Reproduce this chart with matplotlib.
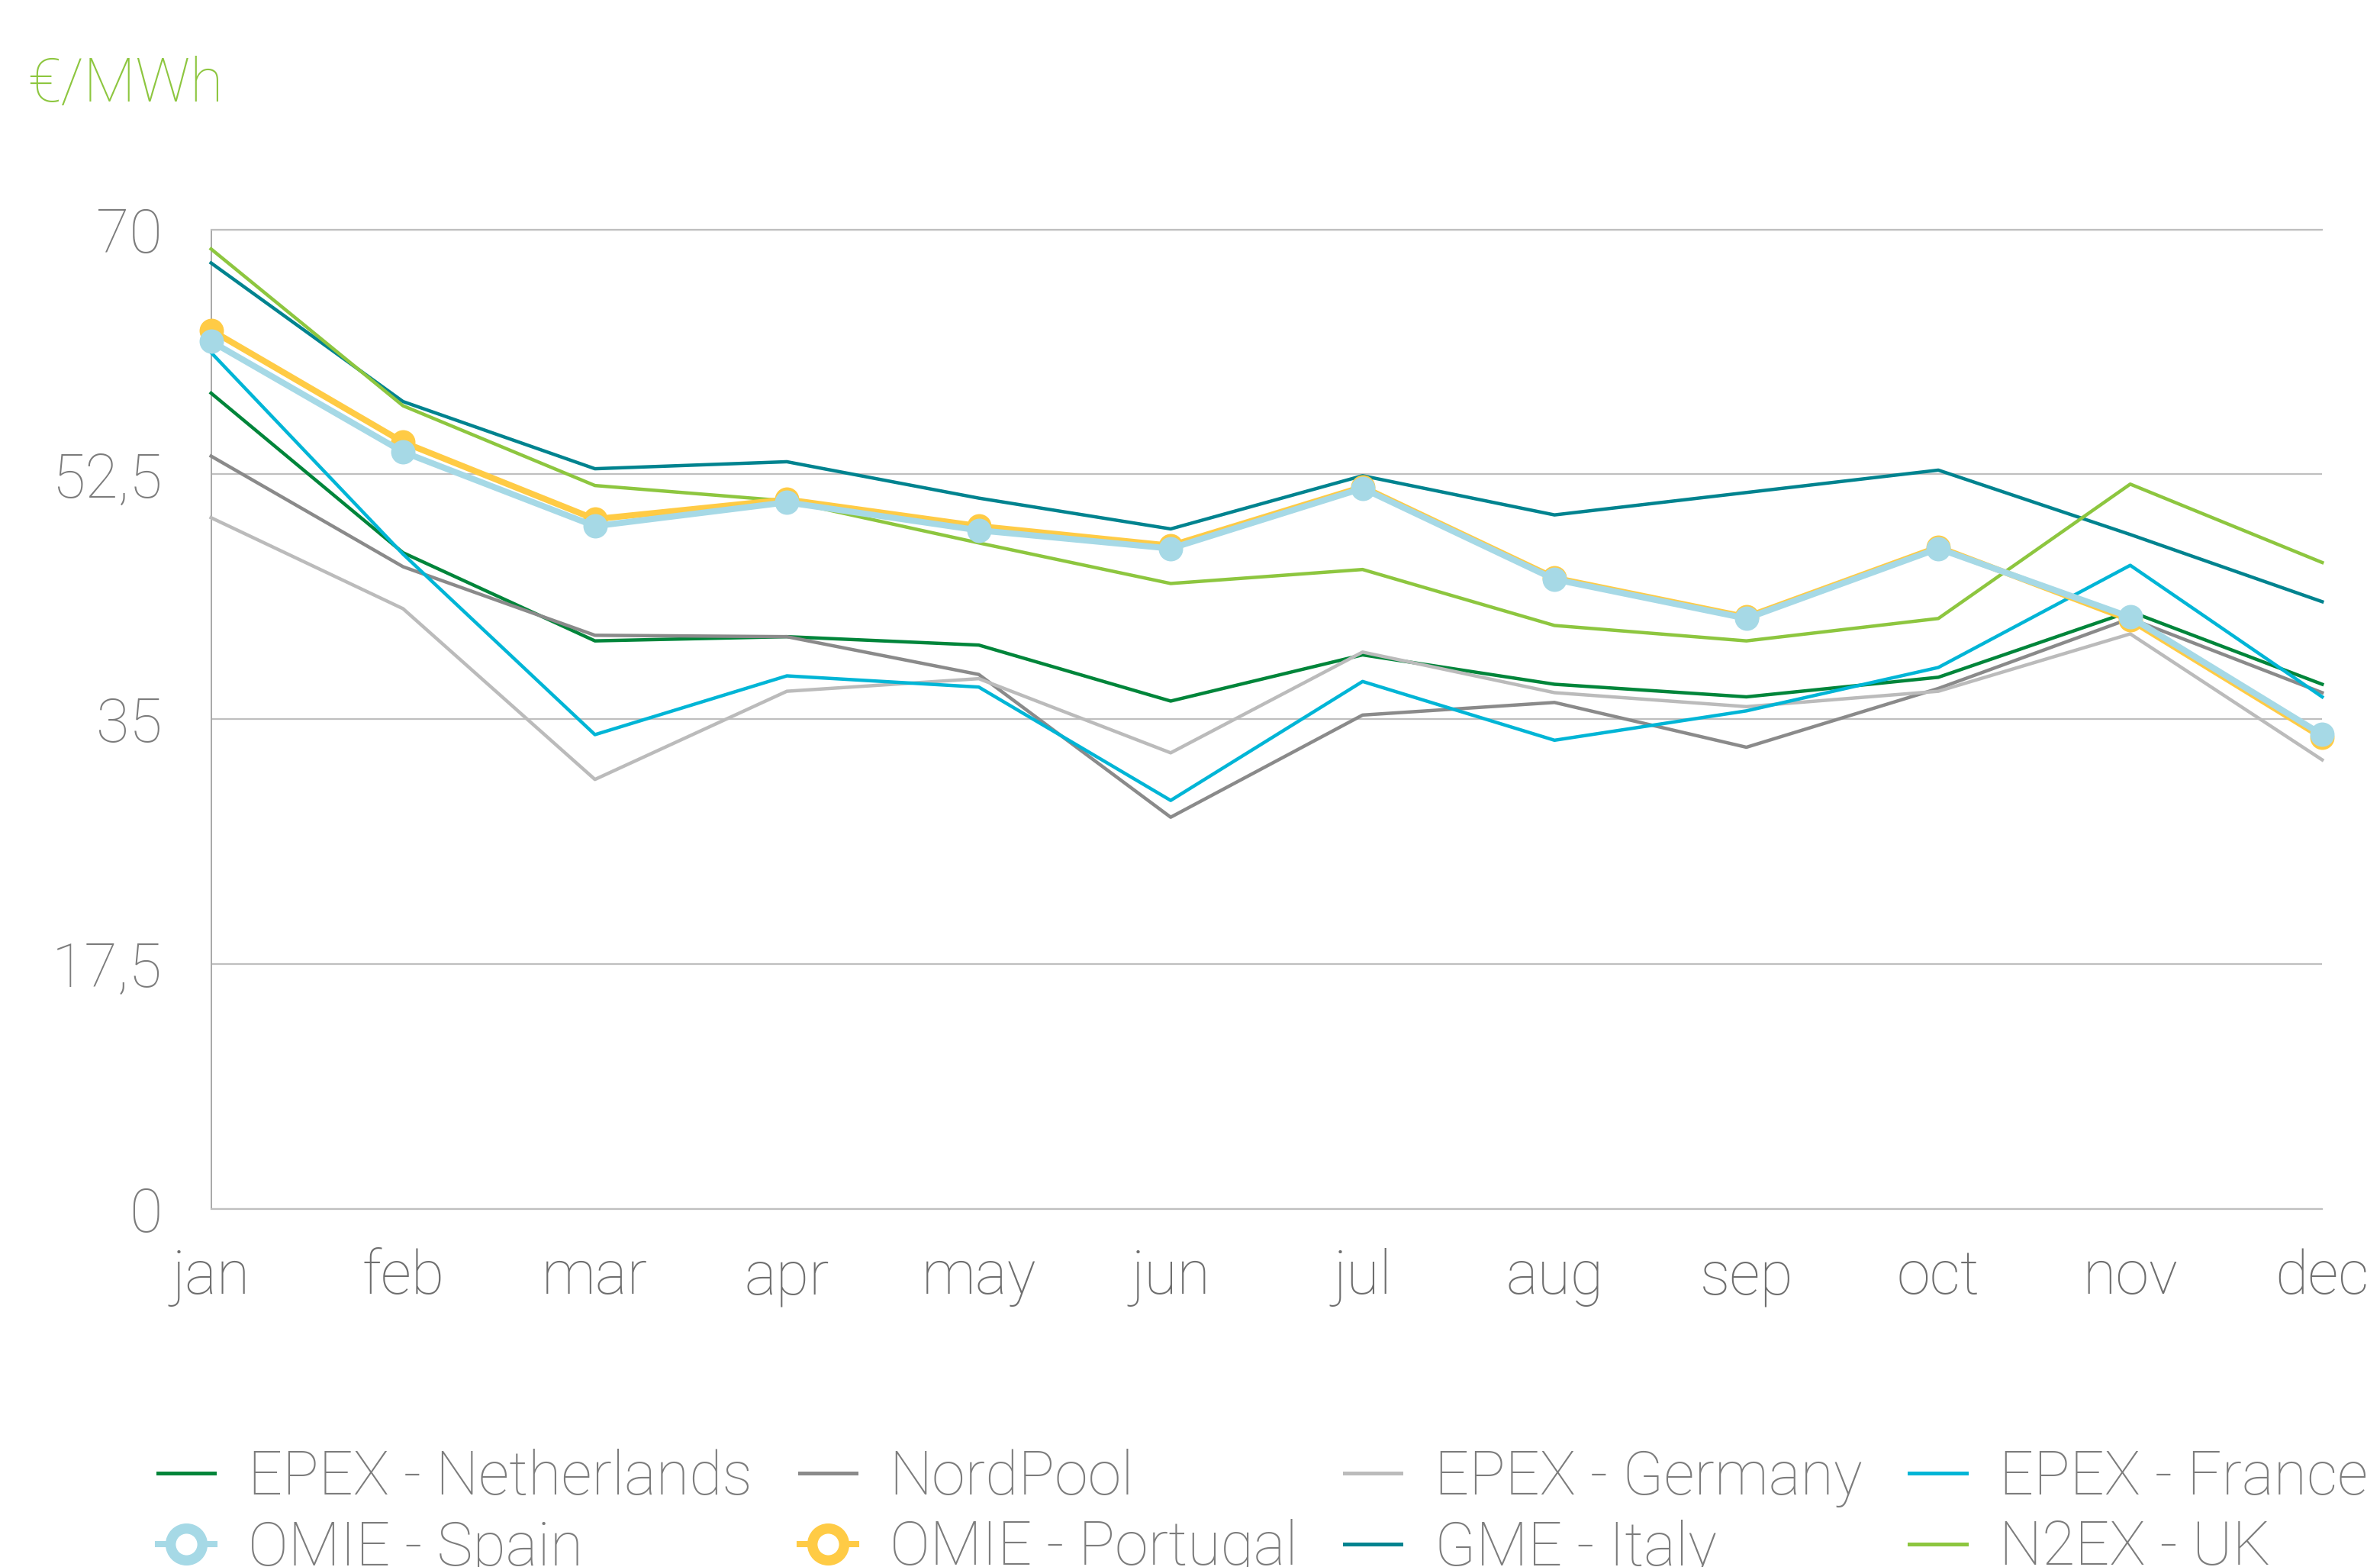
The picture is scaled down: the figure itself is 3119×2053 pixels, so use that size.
import matplotlib
matplotlib.use("Agg")
import matplotlib.pyplot as plt
from matplotlib.lines import Line2D

months = ["jan", "feb", "mar", "apr", "may", "jun", "jul", "aug", "sep", "oct", "nov", "dec"]

netherlands = [58.3, 46.9, 40.6, 40.9, 40.3, 36.3, 39.6, 37.5, 36.6, 38.0, 42.7, 37.5]
nordpool = [53.8, 45.9, 41.0, 40.9, 38.2, 28.0, 35.3, 36.2, 33.0, 37.2, 42.2, 36.9]
germany = [49.4, 42.9, 30.7, 37.0, 37.9, 32.6, 39.8, 36.9, 35.9, 37.0, 41.1, 32.1]
france = [61.2, 46.8, 33.9, 38.1, 37.3, 29.2, 37.7, 33.5, 35.6, 38.7, 46.0, 36.6]
spain = [62.0, 54.1, 48.8, 50.5, 48.5, 47.2, 51.5, 45.0, 42.2, 47.2, 42.3, 33.9]
portugal = [62.8, 54.8, 49.3, 50.7, 48.8, 47.4, 51.6, 45.1, 42.3, 47.3, 42.1, 33.7]
italy = [67.6, 57.7, 52.9, 53.4, 50.8, 48.6, 52.4, 49.6, 51.2, 52.8, 48.2, 43.4]
uk = [68.6, 57.4, 51.7, 50.6, 47.6, 44.7, 45.7, 41.7, 40.6, 42.2, 51.8, 46.2]

y_ticks = [0, 17.5, 35, 52.5, 70]
y_labels = ["0", "17,5", "35", "52,5", "70"]

plt.rcParams["font.family"] = ["Roboto Light", "Roboto", "DejaVu Sans"]
plt.rcParams["font.weight"] = "light"

FS = 57
GRID = "#BFBFBF"
TXT = "#7C7C7C"

fig = plt.figure(figsize=(31.19, 20.53), dpi=100)
ax = fig.add_axes([0.0887, 0.2284, 0.8870, 0.6252])

x = list(range(len(months)))
thin = [
    ("EPEX - Netherlands", netherlands, "#00853A"),
    ("NordPool", nordpool, "#8A8A8A"),
    ("EPEX - Germany", germany, "#BBBBBB"),
    ("EPEX - France", france, "#00B5D6"),
    ("GME - Italy", italy, "#00838F"),
    ("N2EX - UK", uk, "#8DC63F"),
]
for name, vals, col in thin:
    ax.plot(x, vals, color=col, lw=3.2, clip_on=False, zorder=3)

ax.plot(x, portugal, color="#FFCB45", lw=5.8, marker="o", ms=23, mew=0,
        clip_on=False, zorder=4)
ax.plot(x, spain, color="#A6D9E6", lw=5.8, marker="o", ms=23, mew=0,
        clip_on=False, zorder=5)

ax.set_xlim(0, 11)
ax.set_ylim(0, 70)
ax.set_xticks(x)
ax.set_xticklabels(months, fontsize=FS, color="#6E6E6E")
ax.set_yticks(y_ticks)
ax.set_yticklabels(y_labels, fontsize=FS, color=TXT)
ax.tick_params(axis="both", length=0)
ax.tick_params(axis="y", pad=46)
ax.tick_params(axis="x", pad=37)
ax.yaxis.grid(True, color=GRID, lw=1.6)
ax.set_axisbelow(True)
ax.spines["right"].set_visible(False)
for s in ["top", "bottom"]:
    ax.spines[s].set_color(GRID)
    ax.spines[s].set_linewidth(1.6)
ax.spines["left"].set_color("#A8A8A8")
ax.spines["left"].set_linewidth(1.4)

fig.text(0.0115, 0.935, "€/MWh", fontsize=FS, color="#8DC63F", va="baseline")


def ring(col):
    return Line2D([], [], color=col, lw=5.8, marker="o", ms=30,
                  mfc="white", mec=col, mew=9.7)


def plain(col):
    return Line2D([], [], color=col, lw=3.6)


# picture reads row by row, legend fills columns
handles = [plain("#00853A"), ring("#A6D9E6"),
           plain("#8A8A8A"), ring("#FFCB45"),
           plain("#BBBBBB"), plain("#00838F"),
           plain("#00B5D6"), plain("#8DC63F")]
labels = ["EPEX - Netherlands", "OMIE - Spain",
          "NordPool", "OMIE - Portugal",
          "EPEX - Germany", "GME - Italy",
          "EPEX - France", "N2EX - UK"]
fig.legend(handles, labels, loc="upper left", bbox_to_anchor=(207 / 3119, 1 - 1898 / 2053),
           ncol=4, frameon=False, fontsize=FS, labelcolor=TXT,
           handlelength=0.94, handletextpad=0.55, columnspacing=0.78,
           labelspacing=0.2, borderpad=0, borderaxespad=0)

fig.savefig("out.png", dpi=100)
